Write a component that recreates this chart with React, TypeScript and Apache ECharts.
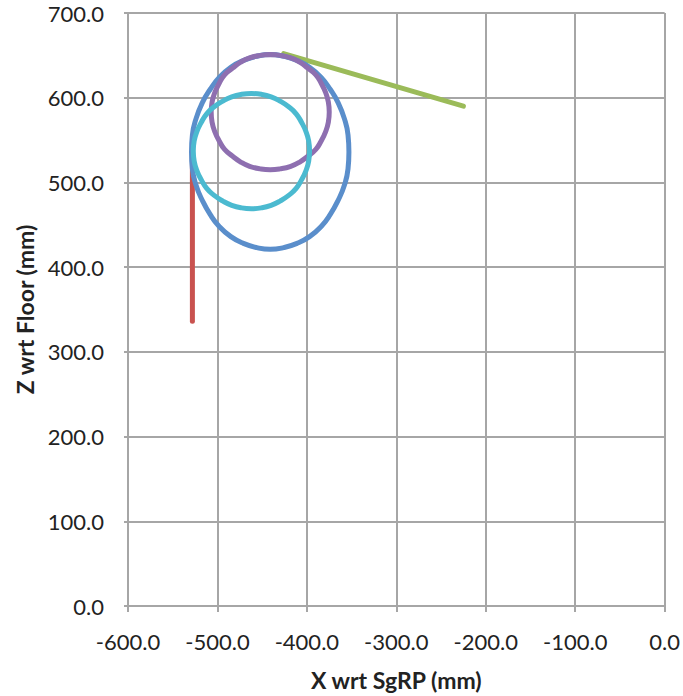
import React, { useEffect, useRef } from "react";
import * as echarts from "echarts";

const xTicks = [-600, -500, -400, -300, -200, -100, 0];
const yTicks = [0, 100, 200, 300, 400, 500, 600, 700];

const redPath: [number, number][] = [
  [-528, 336],
  [-528, 536],
];

const greenPath: [number, number][] = [
  [-426, 652],
  [-225, 590],
];

const bluePath: [number, number][] = [
  [-529, 536], [-528, 516], [-524, 497], [-517, 479], [-508, 462], [-498, 448],
  [-485, 436], [-471, 428], [-456, 423], [-441, 421], [-426, 423], [-411, 428],
  [-397, 436], [-384, 448], [-374, 462], [-365, 479], [-358, 497], [-354, 516],
  [-353, 536], [-354, 556], [-358, 575], [-365, 594], [-374, 610], [-384, 624],
  [-397, 636], [-411, 644], [-426, 649], [-441, 651], [-456, 649], [-471, 644],
  [-485, 636], [-498, 624], [-508, 610], [-517, 594], [-524, 575], [-528, 556],
  [-529, 536],
];

const purplePath: [number, number][] = [
  [-441, 651], [-430, 650], [-418, 647], [-408, 642], [-399, 635], [-390, 627],
  [-384, 617], [-379, 606], [-376, 595], [-375, 583], [-376, 571], [-379, 560],
  [-384, 549], [-390, 539], [-399, 531], [-408, 524], [-418, 519], [-430, 516],
  [-441, 515], [-452, 516], [-464, 519], [-474, 524], [-483, 531], [-492, 539],
  [-498, 549], [-503, 560], [-506, 571], [-507, 583], [-506, 595], [-503, 606],
  [-498, 617], [-492, 627], [-483, 635], [-474, 642], [-464, 647], [-452, 650],
  [-441, 651],
];

const cyanPath: [number, number][] = [
  [-527, 537], [-526, 549], [-523, 560], [-518, 571], [-512, 581], [-504, 589],
  [-494, 596], [-484, 601], [-473, 604], [-462, 605], [-451, 604], [-440, 601],
  [-430, 596], [-420, 589], [-412, 581], [-406, 571], [-401, 560], [-398, 549],
  [-397, 537], [-398, 525], [-401, 514], [-406, 503], [-412, 493], [-420, 485],
  [-430, 478], [-440, 473], [-451, 470], [-462, 469], [-473, 470], [-484, 473],
  [-494, 478], [-504, 485], [-512, 493], [-518, 503], [-523, 514], [-526, 525],
  [-527, 537],
];

const FONT = "Lato";

export default function App() {
  const ref = useRef<HTMLDivElement>(null);
  useEffect(() => {
    if (!ref.current) return;
    const chart = echarts.init(ref.current, null, { renderer: "svg" });
    const lineSeries = (name: string, data: [number, number][], color: string, smooth: boolean, z: number) => ({
      name,
      type: "line",
      data,
      smooth,
      showSymbol: false,
      symbol: "none",
      z,
      lineStyle: { color, width: 5, cap: "round", join: "round" },
    });
    chart.setOption({
      animation: false,
      backgroundColor: "#ffffff",
      grid: { left: 128, right: 16, top: 13, bottom: 87, containLabel: false },
      xAxis: {
        type: "value",
        min: xTicks[0],
        max: xTicks[xTicks.length - 1],
        interval: 100,
        name: "X wrt SgRP (mm)",
        nameLocation: "middle",
        nameGap: 62,
        nameTextStyle: { fontFamily: FONT, fontSize: 23, fontWeight: "bold", color: "#222" },
        axisLine: { show: true, onZero: false, lineStyle: { color: "#a6a6a6", width: 2 } },
        axisTick: { show: true, length: 6, lineStyle: { color: "#a6a6a6", width: 2 } },
        axisLabel: {
          margin: 24,
          fontFamily: FONT,
          fontSize: 22,
          color: "#222",
          formatter: (v: number) => v.toFixed(1),
        },
        splitLine: { show: true, lineStyle: { color: "#a6a6a6", width: 2 } },
      },
      yAxis: {
        type: "value",
        min: yTicks[0],
        max: yTicks[yTicks.length - 1],
        interval: 100,
        name: "Z wrt Floor (mm)",
        nameLocation: "middle",
        nameGap: 92,
        nameRotate: 90,
        nameTextStyle: { fontFamily: FONT, fontSize: 23, fontWeight: "bold", color: "#222" },
        axisLine: { show: true, onZero: false, lineStyle: { color: "#a6a6a6", width: 2 } },
        axisTick: { show: true, length: 4, lineStyle: { color: "#a6a6a6", width: 2 } },
        axisLabel: {
          margin: 24,
          fontFamily: FONT,
          fontSize: 22,
          color: "#222",
          formatter: (v: number) => v.toFixed(1),
        },
        splitLine: { show: true, lineStyle: { color: "#a6a6a6", width: 2 } },
      },
      series: [
        lineSeries("Green", greenPath, "#9BBB59", false, 2),
        lineSeries("Red", redPath, "#C9524F", false, 3),
        lineSeries("Blue", bluePath, "#5A8ECB", true, 4),
        lineSeries("Purple", purplePath, "#8E6FB0", true, 5),
        lineSeries("Cyan", cyanPath, "#4BBAD0", true, 6),
      ],
    });
    return () => chart.dispose();
  }, []);
  return <div ref={ref} style={{ width: 683, height: 696, position: "absolute", left: 0, top: 0 }} />;
}
